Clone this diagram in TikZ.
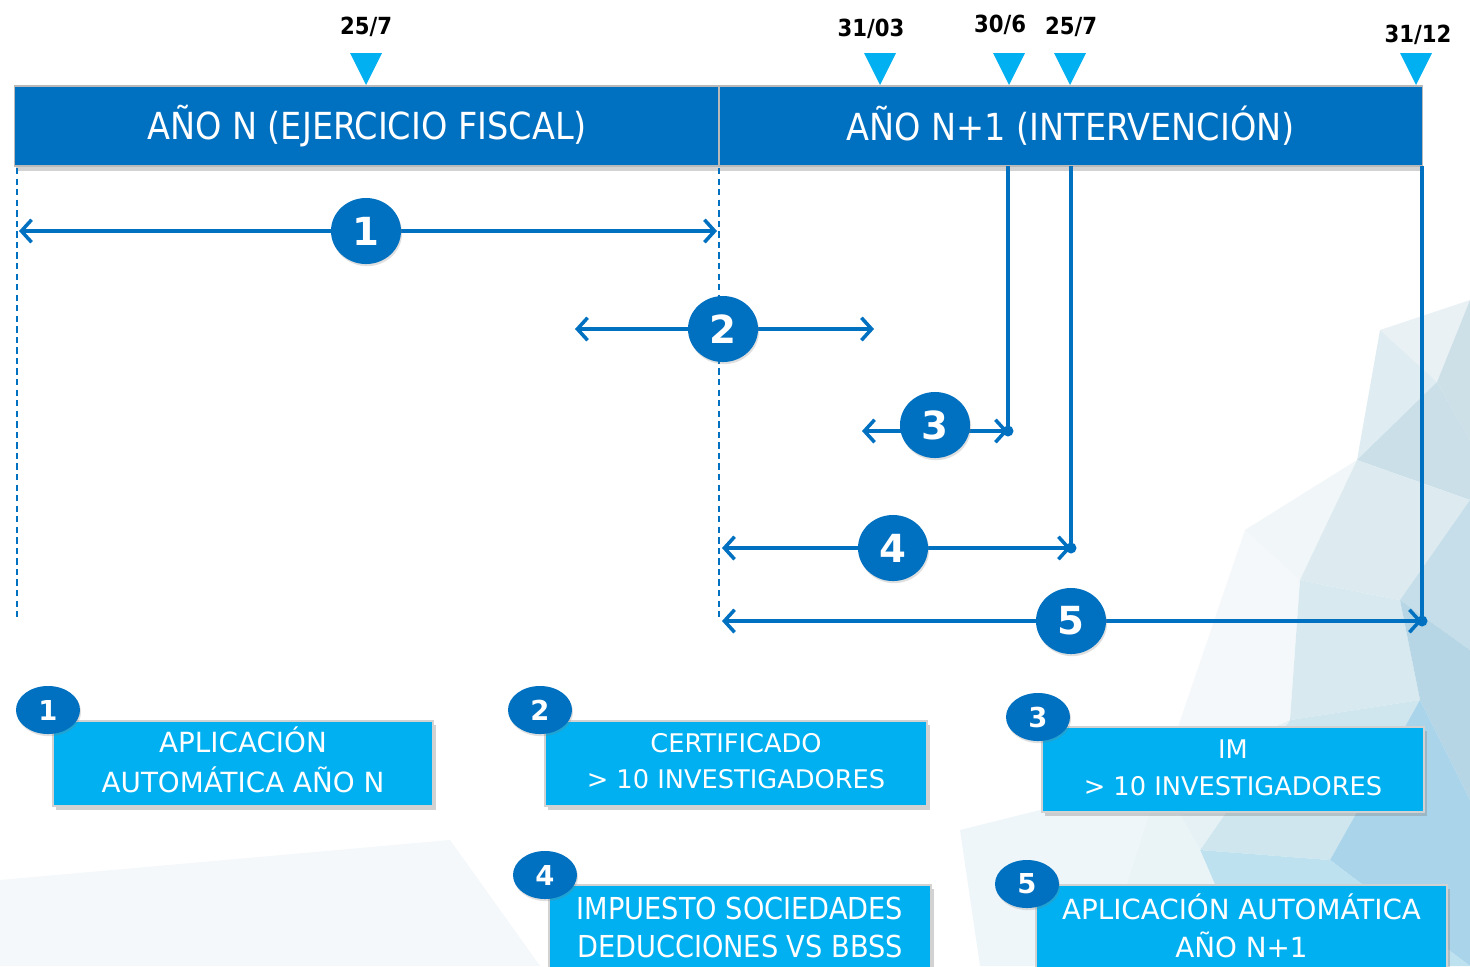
\documentclass[tikz,border=0pt]{standalone}
\usepackage{fontspec}
\setmainfont{DejaVu Sans}
\newfontfamily\condf{DejaVu Sans Condensed}
\usetikzlibrary{arrows.meta,shapes.geometric,shadows}
\definecolor{dblue}{HTML}{0070C0}
\definecolor{lblue}{HTML}{00B0F0}
\begin{document}
\begin{tikzpicture}[x=0.01cm,y=-0.01cm,
  >={Straight Barb[length=2.9pt,width=6.4pt,line width=1pt]},
  hdr/.style={rectangle, fill=dblue, draw=gray!55, line width=0.4pt, minimum height=0.8cm, inner sep=0pt,
    text=white, font=\condf\fontsize{10.6}{12}\selectfont,
    drop shadow={shadow xshift=0.3pt, shadow yshift=-1.3pt, opacity=0.35}},
  datelbl/.style={font=\condf\bfseries\fontsize{6.7}{8}\selectfont, text=black, inner sep=0pt},
  marker/.style={fill=lblue},
  guide/.style={draw=dblue, line width=0.45pt, dash pattern=on 1.8pt off 1.2pt},
  conn/.style={draw=dblue, line width=0.95pt},
  num/.style={ellipse, fill=dblue, minimum width=0.70cm, minimum height=0.66cm, inner sep=0pt,
    text=white, font=\bfseries\fontsize{11}{11}\selectfont,
    drop shadow={shadow xshift=0.3pt, shadow yshift=-0.6pt, opacity=0.25}},
  enddot/.style={circle, fill=dblue, minimum size=0.11cm, inner sep=0pt},
  badge/.style={ellipse, fill=dblue, minimum width=0.64cm, minimum height=0.48cm, inner sep=0pt,
    text=white, font=\bfseries\fontsize{7.8}{8}\selectfont,
    drop shadow={shadow xshift=0.3pt, shadow yshift=-0.6pt, opacity=0.25}},
  infobox/.style={rectangle, fill=lblue, draw=gray!35, line width=0.4pt, minimum height=0.85cm, inner sep=0pt,
    text=white, align=center,
    drop shadow={shadow xshift=0.8pt, shadow yshift=-1.2pt, opacity=0.35}},
  boxtext/.style={inner sep=0pt, text=white, align=center},
]
\useasboundingbox (0,0) rectangle (1470,966);
% ---------- background low-poly ----------
\fill[white] (0,0) rectangle (1470,966);
\fill[color={rgb,255:red,244;green,248;blue,250}] (0,880) -- (450,840) -- (540,966) -- (0,966) -- cycle;
\fill[color={rgb,255:red,244;green,248;blue,250}] (1245,530) -- (1300,580) -- (1290,720) -- (1160,780) -- cycle;
\fill[color={rgb,255:red,234;green,241;blue,244}] (1380,330) -- (1470,300) -- (1437,382) -- cycle;
\fill[color={rgb,255:red,205;green,224;blue,232}] (1470,300) -- (1470,440) -- (1437,382) -- cycle;
\fill[color={rgb,255:red,223;green,236;blue,241}] (1380,330) -- (1437,382) -- (1357,460) -- cycle;
\fill[color={rgb,255:red,203;green,223;blue,232}] (1437,382) -- (1470,440) -- (1470,500) -- (1357,460) -- cycle;
\fill[color={rgb,255:red,241;green,246;blue,248}] (1357,460) -- (1245,530) -- (1300,580) -- cycle;
\fill[color={rgb,255:red,221;green,235;blue,241}] (1357,460) -- (1470,500) -- (1400,600) -- (1300,580) -- cycle;
\fill[color={rgb,255:red,198;green,222;blue,233}] (1470,500) -- (1470,650) -- (1400,600) -- cycle;
\fill[color={rgb,255:red,216;green,233;blue,240}] (1300,580) -- (1400,600) -- (1420,700) -- (1290,720) -- cycle;
\fill[color={rgb,255:red,182;green,214;blue,229}] (1400,600) -- (1470,650) -- (1470,800) -- (1420,700) -- cycle;
\fill[color={rgb,255:red,207;green,230;blue,238}] (1290,720) -- (1420,700) -- (1330,860) -- (1200,850) -- cycle;
\fill[color={rgb,255:red,170;green,212;blue,233}] (1420,700) -- (1470,800) -- (1470,966) -- (1330,860) -- cycle;
\fill[color={rgb,255:red,190;green,225;blue,239}] (1200,850) -- (1330,860) -- (1470,966) -- (1250,966) -- cycle;
\fill[color={rgb,255:red,229;green,241;blue,245}] (1160,780) -- (1290,720) -- (1200,850) -- cycle;
\fill[color={rgb,255:red,234;green,244;blue,247}] (1100,966) -- (1160,780) -- (1200,850) -- (1250,966) -- cycle;
\fill[color={rgb,255:red,239;green,246;blue,249}] (960,830) -- (1160,780) -- (1100,966) -- (980,966) -- cycle;
% ---------- headers ----------
\node[hdr, minimum width=7.04cm] (hA) at (367,126) {AÑO N (EJERCICIO FISCAL)};
\node[hdr, minimum width=7.03cm] (hB) at (1070.5,126) {AÑO N+1 (INTERVENCIÓN)};
% ---------- date markers ----------
\fill[marker] (350,53) -- (382,53) -- (366,85) -- cycle;
\fill[marker] (864,53) -- (896,53) -- (880,85) -- cycle;
\fill[marker] (993,53) -- (1025,53) -- (1009,85) -- cycle;
\fill[marker] (1054,53) -- (1086,53) -- (1070,85) -- cycle;
\fill[marker] (1400,53) -- (1432,53) -- (1416,85) -- cycle;
\node[datelbl] (d1) at (366,27) {25/7};
\node[datelbl] (d2) at (871,29) {31/03};
\node[datelbl] (d3) at (1000,25) {30/6};
\node[datelbl] (d4) at (1071,27) {25/7};
\node[datelbl] (d5) at (1418,35) {31/12};
% ---------- dashed guides ----------
\coordinate (g1t) at (17,168);  \coordinate (g1b) at (17,620);
\coordinate (g2t) at (719,168); \coordinate (g2b) at (719,621);
\draw[guide] (g1t) -- (g1b);
\draw[guide] (g2t) -- (g2b);
% ---------- interval 1 ----------
\coordinate (a1l) at (19,231); \coordinate (a1r) at (717,231);
\draw[conn,<->] (a1l) -- (a1r);
\node[num] (n1) at (366,231) {1};
% ---------- interval 2 ----------
\coordinate (a2l) at (575,329); \coordinate (a2r) at (874,329);
\draw[conn,<->] (a2l) -- (a2r);
\node[num] (n2) at (723,329) {2};
% ---------- interval 3 ----------
\coordinate (a3l) at (862,431); \coordinate (v3t) at (1008,166);
\node[enddot] (e3) at (1008,431) {};
\draw[conn] (v3t) -- (e3.center);
\draw[conn,<->] (a3l) -- (e3.center);
\node[num] (n3) at (935,425) {3};
% ---------- interval 4 ----------
\coordinate (a4l) at (722,548); \coordinate (v4t) at (1071,166);
\node[enddot] (e4) at (1071,548) {};
\draw[conn] (v4t) -- (e4.center);
\draw[conn,<->] (a4l) -- (e4.center);
\node[num] (n4) at (893,548) {4};
% ---------- interval 5 ----------
\coordinate (a5l) at (722,621); \coordinate (v5t) at (1422,166);
\node[enddot] (e5) at (1422,621) {};
\draw[conn] (v5t) -- (e5.center);
\draw[conn,<->] (a5l) -- (e5.center);
\node[num] (n5) at (1071,621) {5};
% ---------- legend boxes ----------
\node[infobox, minimum width=3.80cm] (k1) at (243,763.5) {};
\node[boxtext, font=\fontsize{7.9}{11.4}\selectfont] (t1) at (243,760) {APLICACIÓN\\AUTOMÁTICA AÑO N};
\node[infobox, minimum width=3.82cm] (k2) at (736,763.5) {};
\node[boxtext, font=\fontsize{7.3}{10.2}\selectfont] (t2) at (736,761) {CERTIFICADO\\> 10 INVESTIGADORES};
\node[infobox, minimum width=3.82cm] (k3) at (1233,769.5) {};
\node[boxtext, font=\fontsize{7.3}{10.5}\selectfont] (t3) at (1233,768) {IM\\> 10 INVESTIGADORES};
\node[infobox, minimum width=3.82cm, minimum height=0.9cm] (k4) at (740,930) {};
\node[boxtext, font=\condf\fontsize{8.6}{10.8}\selectfont] (t4) at (740,927) {IMPUESTO SOCIEDADES\\DEDUCCIONES VS BBSS};
\node[infobox, minimum width=4.11cm, minimum height=0.9cm] (k5) at (1241.5,930) {};
\node[boxtext, font=\fontsize{7.9}{10.8}\selectfont] (t5) at (1241.5,926) {APLICACIÓN AUTOMÁTICA\\AÑO N+1};
\node[badge] (b1) at (48,710) {1};
\node[badge] (b2) at (540,710) {2};
\node[badge] (b3) at (1038,717) {3};
\node[badge] (b4) at (545,875) {4};
\node[badge] (b5) at (1027,884) {5};
\end{tikzpicture}
\end{document}
